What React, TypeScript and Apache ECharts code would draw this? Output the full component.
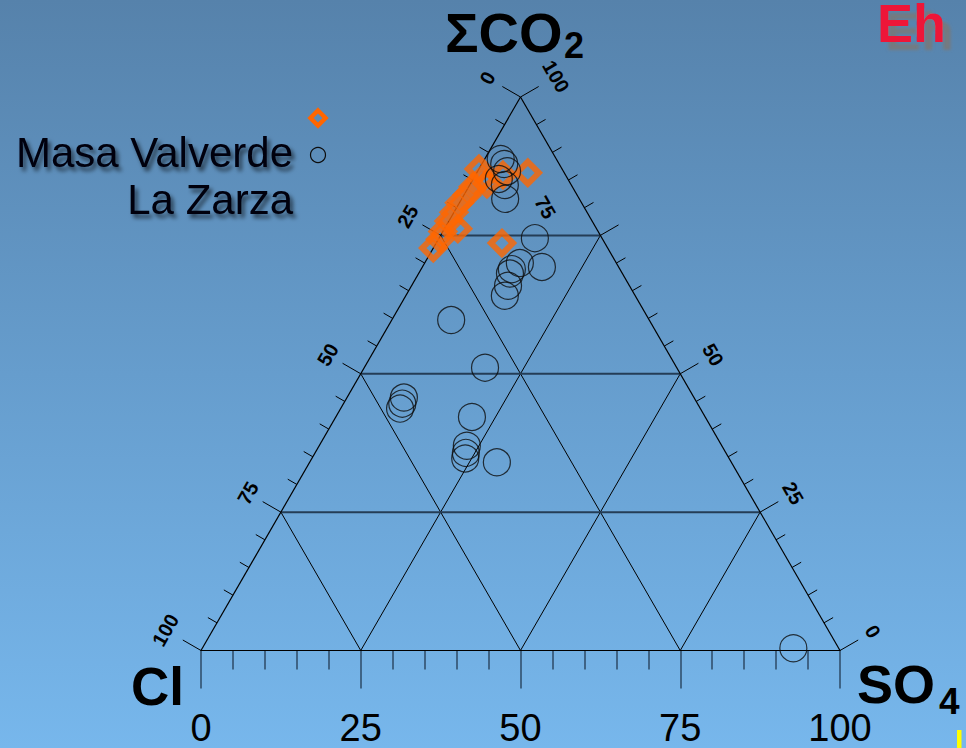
import { useEffect, useRef } from "react";
import * as echarts from "echarts";

// Ternary compositions in percent: [Cl, SO4, ΣCO2]
const masaValverde: number[][] = [
  [13.0, 0.0, 87.0],
  [9.8, 4.3, 85.9],
  [5.7, 8.0, 86.3],
  [13.4, 1.4, 85.2],
  [15.5, 0.7, 83.8],
  [17.2, 0.5, 82.3],
  [19.1, 0.0, 80.9],
  [20.8, 0.0, 79.2],
  [22.4, 0.0, 77.6],
  [21.7, 2.1, 76.2],
  [24.3, 0.0, 75.7],
  [25.4, 0.3, 74.3],
  [27.3, 0.0, 72.7],
  [16.1, 10.3, 73.6],
  [13.1, 2.6, 84.3],
];

const laZarza: number[][] = [
  [8.7, 2.5, 88.8],
  [8.6, 3.5, 87.9],
  [8.8, 4.6, 86.6],
  [10.8, 4.0, 85.2],
  [10.4, 5.5, 84.1],
  [11.6, 6.8, 81.6],
  [10.5, 15.0, 74.5],
  [12.0, 18.7, 69.3],
  [15.1, 14.9, 70.0],
  [16.9, 14.2, 68.9],
  [17.6, 14.3, 68.1],
  [19.0, 15.1, 65.9],
  [20.4, 15.5, 64.1],
  [31.0, 9.3, 59.7],
  [30.0, 18.9, 51.1],
  [45.4, 8.9, 45.7],
  [46.2, 9.2, 44.6],
  [47.0, 9.3, 43.7],
  [36.5, 21.3, 42.2],
  [39.9, 23.1, 37.0],
  [40.7, 23.6, 35.7],
  [41.3, 24.0, 34.7],
  [36.7, 29.3, 34.0],
  [7.1, 92.5, 0.4],
];

// Scale values shared by the three sides of the triangle
const gridLevels = [25, 50, 75];
const edgeLabels = [0, 25, 50, 75, 100];
const tickStep = 5;

const H = Math.sqrt(3) / 2;
const FONT = '"Liberation Sans", Arial, Helvetica, sans-serif';

// [Cl, SO4, CO2] -> cartesian (x along the Cl–SO4 base, y towards the CO2 apex)
const toXY = (row: number[]) => [row[1] + row[2] / 2, row[2] * H];

// Points on the left (Cl) edge and right (CO2) edge
const leftEdge = (cl: number) => [(100 - cl) / 2, (100 - cl) * H];
const rightEdge = (co2: number) => [100 - co2 / 2, co2 * H];

const frameSegs = [
  [0, 0, 100, 0],
  [100, 0, 50, 100 * H],
  [50, 100 * H, 0, 0],
];
const slantSegs: number[][] = [];
gridLevels.forEach((k) => {
  slantSegs.push([k, 0, k + (100 - k) / 2, (100 - k) * H]); // constant SO4
  slantSegs.push([100 - k, 0, (100 - k) / 2, (100 - k) * H]); // constant Cl
});
const levelSegs = gridLevels.map((k) => [k / 2, k * H, 100 - k / 2, k * H]);

const edgeTicks: number[][] = [];
for (let v = 0; v <= 100; v += tickStep) {
  const major = v % 25 === 0 ? 1 : 0;
  const l = leftEdge(v);
  const r = rightEdge(v);
  edgeTicks.push([l[0], l[1], 0, major]);
  edgeTicks.push([r[0], r[1], 1, major]);
}

// outward normals of the left / right edges, in screen space
const NORMALS = [
  [-Math.sqrt(3) / 2, -0.5],
  [Math.sqrt(3) / 2, -0.5],
];
const RIGHT_75_SHIFT = [-55, -28];

const segmentSeries = (segs: number[][], color: string, width: number, z: number) => ({
  type: "custom",
  coordinateSystem: "cartesian2d",
  silent: true,
  clip: false,
  z,
  encode: { x: [0, 2], y: [1, 3] },
  data: segs,
  renderItem: (_p: any, api: any) => {
    const a = api.coord([api.value(0), api.value(1)]);
    const b = api.coord([api.value(2), api.value(3)]);
    return {
      type: "line",
      shape: { x1: a[0], y1: a[1], x2: b[0], y2: b[1] },
      style: { stroke: color, lineWidth: width },
    };
  },
});

const shadowText = {
  textShadowColor: "rgba(0,0,0,0.6)",
  textShadowBlur: 4,
  textShadowOffsetX: 3,
  textShadowOffsetY: 4,
};

const txt = (
  text: string,
  x: number,
  y: number,
  size: number,
  weight: string,
  fill: string,
  align: string,
  extra: any = {},
  rotation = 0
) => ({
  type: "text",
  x,
  y,
  rotation,
  silent: true,
  style: {
    text,
    x: 0,
    y: 0,
    fontSize: size,
    fontWeight: weight,
    fontFamily: FONT,
    fill,
    align,
    textAlign: align,
    verticalAlign: "middle",
    textVerticalAlign: "middle",
    ...extra,
  },
});

const staticGraphics = [
  txt("ΣCO", 445, 32, 56, "bold", "#000", "left"),
  txt("2", 564, 45, 36, "bold", "#000", "left"),
  txt("Cl", 131, 686, 53, "bold", "#000", "left"),
  txt("SO", 857, 684, 54, "bold", "#000", "left"),
  txt("4", 939, 701, 37, "bold", "#000", "left"),
  txt("Eh", 877, 23, 54, "bold", "#ee1438", "left", {
    textShadowColor: "rgba(120,120,120,0.85)",
    textShadowBlur: 3,
    textShadowOffsetX: 8,
    textShadowOffsetY: 8,
  }),
  txt("Masa Valverde", 293, 152, 42, "normal", "#05050f", "right", shadowText),
  txt("La Zarza", 293, 199, 42, "normal", "#05050f", "right", shadowText),
  {
    type: "polygon",
    silent: true,
    shape: { points: [[318, 110.5], [325.5, 118], [318, 125.5], [310.5, 118]] },
    style: { fill: "none", stroke: "#ff6600", lineWidth: 4.5, lineJoin: "miter" },
  },
  {
    type: "circle",
    silent: true,
    shape: { cx: 318, cy: 155, r: 7.5 },
    style: { fill: "none", stroke: "#0d0d0d", lineWidth: 1.2 },
  },
  {
    type: "rect",
    silent: true,
    shape: { x: 957, y: 730, width: 4.5, height: 18 },
    style: { fill: "#ffff00" },
  },
];

export default function App() {
  const ref = useRef<HTMLDivElement>(null);

  useEffect(() => {
    if (!ref.current) return;
    const chart = echarts.init(ref.current, undefined, { renderer: "svg" });

    chart.setOption({
      animation: false,
      backgroundColor: new echarts.graphic.LinearGradient(0, 0, 0, 1, [
        { offset: 0, color: "#5682ab" },
        { offset: 0.5, color: "#669dcd" },
        { offset: 1, color: "#77b7ec" },
      ]),
      grid: { left: 201, top: 97, width: 639, height: 553.5 },
      xAxis: {
        type: "value",
        min: 0,
        max: 100,
        interval: 25,
        splitLine: { show: false },
        axisLine: { show: true, lineStyle: { color: "#000", width: 1.2 } },
        axisTick: { show: true, length: 38, lineStyle: { color: "#2c4a66", width: 1.5 } },
        minorTick: {
          show: true,
          splitNumber: 5,
          length: 19,
          lineStyle: { color: "#2c4a66", width: 1.5 },
        },
        axisLabel: {
          show: true,
          margin: 58,
          fontSize: 38,
          color: "#000",
          fontFamily: FONT,
          showMinLabel: true,
          showMaxLabel: true,
        },
      },
      yAxis: { type: "value", min: 0, max: 100 * H, show: false },
      series: [
        segmentSeries(slantSegs, "#000", 1, 1),
        segmentSeries(levelSegs, "#243d56", 2, 1),
        segmentSeries(frameSegs, "#000", 1.2, 2),
        {
          type: "custom",
          coordinateSystem: "cartesian2d",
          silent: true,
          clip: false,
          z: 2,
          data: edgeTicks,
          renderItem: (_p: any, api: any) => {
            const pt = api.coord([api.value(0), api.value(1)]);
            const n = NORMALS[api.value(2)];
            const len = api.value(3) ? 21 : 10.5;
            return {
              type: "line",
              shape: { x1: pt[0], y1: pt[1], x2: pt[0] + n[0] * len, y2: pt[1] + n[1] * len },
              style: { stroke: "#000", lineWidth: 1 },
            };
          },
        },
        {
          type: "scatter",
          name: "Masa Valverde",
          data: masaValverde.map(toXY),
          symbol: "diamond",
          symbolSize: 22,
          clip: false,
          silent: true,
          z: 5,
          itemStyle: {
            color: "rgba(0,0,0,0)",
            borderColor: "#ff6600",
            borderWidth: 6,
            borderJoin: "miter",
            borderMiterLimit: 10,
          },
        },
        {
          type: "scatter",
          name: "La Zarza",
          data: laZarza.map(toXY),
          symbol: "circle",
          symbolSize: 27,
          clip: false,
          silent: true,
          z: 6,
          itemStyle: { color: "rgba(0,0,0,0)", borderColor: "#0d0d0d", borderWidth: 1.2 },
        },
      ],
      graphic: staticGraphics,
    });

    // Edge scale labels, placed from the grid's own data-to-pixel mapping
    const edgeText: any[] = [];
    edgeLabels.forEach((v) => {
      [0, 1].forEach((side) => {
        const p = side === 0 ? leftEdge(v) : rightEdge(v);
        const px = chart.convertToPixel({ gridIndex: 0 }, p) as number[];
        const n = NORMALS[side];
        const gap = v >= 100 ? 41 : 38;
        let dx = n[0] * gap;
        let dy = n[1] * gap;
        if (side === 1 && v === 75) {
          dx = RIGHT_75_SHIFT[0];
          dy = RIGHT_75_SHIFT[1];
        }
        edgeText.push(
          txt(String(v), px[0] + dx, px[1] + dy, 20, "bold", "#000", "center", {}, side === 0 ? Math.PI / 3 : -Math.PI / 3)
        );
      });
    });
    chart.setOption({ graphic: [...staticGraphics, ...edgeText] });

    return () => chart.dispose();
  }, []);

  return (
    <div
      ref={ref}
      style={{ position: "fixed", left: 0, top: 0, width: 966, height: 748 }}
    />
  );
}
